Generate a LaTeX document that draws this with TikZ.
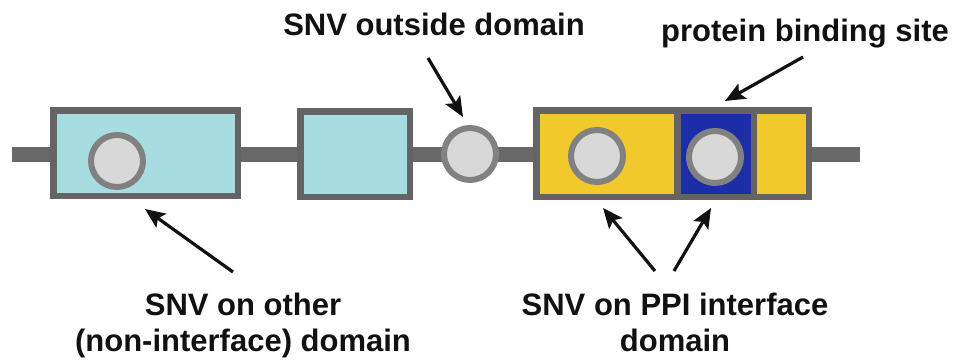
\documentclass[tikz,border=0pt]{standalone}
\usepackage{fontspec}
\setmainfont{Liberation Sans}
\usetikzlibrary{arrows.meta}
\definecolor{bone}{HTML}{686868}
\definecolor{edge}{HTML}{646464}
\definecolor{ringc}{HTML}{818181}
\definecolor{snvfill}{HTML}{D8D8D8}
\definecolor{cyanfill}{HTML}{A7DDE1}
\definecolor{yellowfill}{HTML}{F2C92C}
\definecolor{bluefill}{HTML}{1C2DA8}
\definecolor{txt}{HTML}{111111}
\begin{document}
\begin{tikzpicture}[x=1pt,y=-1pt,
  domainbox/.style={draw=edge,line width=6.5pt,rectangle,inner sep=0pt,minimum width=#1},
  snv/.style={draw=ringc,fill=snvfill,line width=6pt,circle,inner sep=0pt,minimum size=52pt},
  lab/.style={font=\bfseries\fontsize{31}{36}\selectfont,text=txt,align=center,inner sep=0pt},
  pointer/.style={draw=txt,line width=3.2pt,-{Stealth[length=20pt,width=17pt,inset=4pt]}}
]
\useasboundingbox (0,0) rectangle (959,362);
% backbone
\coordinate (bbL) at (12,154.5);
\coordinate (bbR) at (860,154.5);
\draw[bone,line width=15pt] (bbL) -- (bbR);
% domains
\node[domainbox=184.5pt,minimum height=85.5pt,fill=cyanfill] (d1) at (145.5,153) {};
\node[domainbox=109.5pt,minimum height=85.5pt,fill=cyanfill] (d2) at (355,154) {};
\node[domainbox=272.5pt,minimum height=86.5pt,fill=yellowfill] (d3) at (672.5,153.5) {};
\node[domainbox=76.5pt,minimum height=86.5pt,fill=bluefill] (site) at (715.5,153.5) {};
% SNVs
\node[snv] (s1) at (117,161) {};
\node[snv] (s2) at (470,154) {};
\node[snv] (s3) at (597,156) {};
\node[snv] (s4) at (715,157) {};
% labels
\node[lab,anchor=base] (tout) at (434,35) {SNV outside domain};
\node[lab,anchor=base] (tsite) at (805,41) {protein binding site};
\node[lab,anchor=north] (tother) at (243,293) {SNV on other\\(non-interface) domain};
\node[lab,anchor=north] (tppi) at (675,293) {SNV on PPI interface\\domain};
% arrow ends
\coordinate (aOutS) at (428,58);   \coordinate (aOutE) at (463,117);
\coordinate (aSiteS) at (803,57);  \coordinate (aSiteE) at (725,101);
\coordinate (aOthS) at (233,272);  \coordinate (aOthE) at (145,209);
\coordinate (aP1S) at (655,271);   \coordinate (aP1E) at (603,208);
\coordinate (aP2S) at (674,271);   \coordinate (aP2E) at (711,208);
\draw[pointer] (aOutS) -- (aOutE);
\draw[pointer] (aSiteS) -- (aSiteE);
\draw[pointer] (aOthS) -- (aOthE);
\draw[pointer] (aP1S) -- (aP1E);
\draw[pointer] (aP2S) -- (aP2E);
\end{tikzpicture}
\end{document}
